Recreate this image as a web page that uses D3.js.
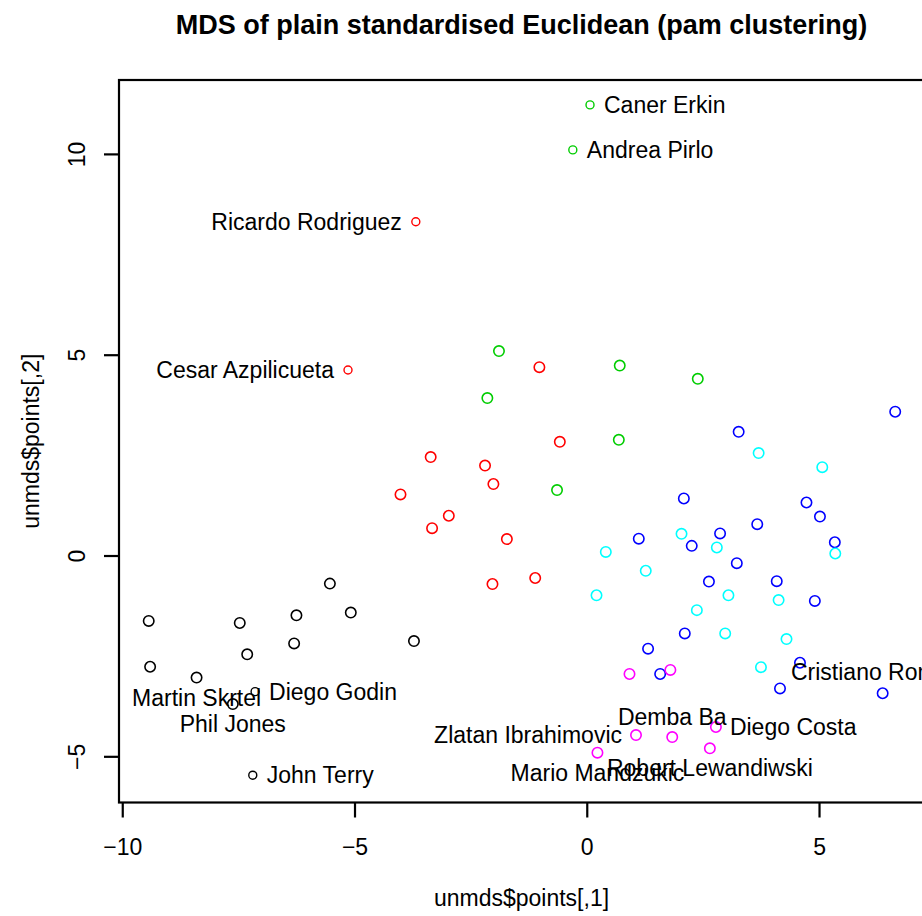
<!DOCTYPE html>
<html>
<head>
<meta charset="utf-8">
<script src="https://cdn.jsdelivr.net/npm/d3@7"></script>
<style>
  html, body { margin: 0; padding: 0; background: #fff; }
  svg { display: block; }
  text { font-family: "Liberation Sans", Arial, Helvetica, sans-serif; fill: #000; }
</style>
</head>
<body>
<svg id="chart" width="922" height="916"></svg>
<script>
// MDS coordinates (unmds$points[,1], unmds$points[,2]) grouped by pam cluster
const clusterColours = ["#000000", "#FF0000", "#00CD00", "#0000FF", "#00FFFF", "#FF00FF"];

const cluster1 = [
  [-9.43, -1.63], [-9.40, -2.77], [-7.47, -1.68], [-7.31, -2.46], [-6.25, -1.49],
  [-6.30, -2.19], [-5.53, -0.70], [-5.08, -1.42], [-3.72, -2.13]
];
const cluster2 = [
  [-1.02, 4.69], [-0.58, 2.83], [-3.36, 2.45], [-2.19, 2.24], [-2.01, 1.78],
  [-4.01, 1.52], [-2.97, 0.99], [-3.33, 0.68], [-1.72, 0.41], [-2.03, -0.71],
  [-1.11, -0.56]
];
const cluster3 = [
  [-1.89, 5.09], [-2.14, 3.92], [0.71, 4.73], [2.39, 4.40], [0.69, 2.88], [-0.64, 1.63]
];
const cluster4 = [
  [6.64, 3.58], [3.27, 3.08], [2.09, 1.42], [4.73, 1.32], [5.02, 0.97], [3.67, 0.78],
  [1.12, 0.42], [2.87, 0.55], [2.26, 0.24], [5.34, 0.33], [3.23, -0.19], [2.63, -0.65],
  [4.09, -0.64], [4.91, -1.13], [2.11, -1.94], [1.32, -2.32], [1.58, -2.95],
  [4.16, -3.31], [6.37, -3.43]
];
const cluster5 = [
  [3.70, 2.55], [5.07, 2.20], [2.04, 0.54], [2.80, 0.20], [5.35, 0.05], [0.41, 0.09],
  [1.27, -0.38], [3.05, -0.99], [4.13, -1.11], [0.21, -0.99], [2.37, -1.36],
  [2.98, -1.94], [4.30, -2.08], [3.75, -2.78]
];
const cluster6 = [
  [0.92, -2.95], [1.80, -2.85]
];

// Named players: [name, cluster, dim1, dim2]
const namedPlayers = [
  ["Caner Erkin", 3, 0.07, 11.22],
  ["Andrea Pirlo", 3, -0.30, 10.10],
  ["Ricardo Rodriguez", 2, -3.68, 8.31],
  ["Cesar Azpilicueta", 2, -5.14, 4.62],
  ["Martin Skrtel", 1, -8.40, -3.04],
  ["Diego Godin", 1, -7.14, -3.39],
  ["Phil Jones", 1, -7.62, -3.70],
  ["John Terry", 1, -7.19, -5.47],
  ["Zlatan Ibrahimovic", 6, 1.06, -4.47],
  ["Demba Ba", 6, 1.84, -4.52],
  ["Diego Costa", 6, 2.78, -4.27],
  ["Mario Mandzukic", 6, 0.23, -4.91],
  ["Robert Lewandiwski", 6, 2.65, -4.80],
  ["Cristiano Ronaldo", 4, 4.59, -2.67]
];

const xTicks = [-10, -5, 0, 5];
const yTicks = [-5, 0, 5, 10];

const titleText = "MDS of plain standardised Euclidean (pam clustering)";
const xTitle = "unmds$points[,1]";
const yTitle = "unmds$points[,2]";

// ---- label placement (R-style pos: 1 below, 2 left, 3 above, 4 right) ----
const labelPos = {
  "Caner Erkin": 4, "Andrea Pirlo": 4, "Ricardo Rodriguez": 2, "Cesar Azpilicueta": 2,
  "Martin Skrtel": 1, "Diego Godin": 4, "Phil Jones": 1, "John Terry": 4,
  "Zlatan Ibrahimovic": 2, "Demba Ba": 3, "Diego Costa": 4, "Mario Mandzukic": 1,
  "Robert Lewandiwski": 1, "Cristiano Ronaldo": "nudge"
};
const smallMarker = new Set(["Caner Erkin", "Andrea Pirlo", "Ricardo Rodriguez",
  "Cesar Azpilicueta", "Diego Godin", "John Terry"]);

// ---- layout ----
const box = { left: 119, top: 80, right: 924, bottom: 802.5 };
const fontSize = 23;

const svg = d3.select("#chart");

const x = d3.scaleLinear().domain([-10.07, 7.26]).range([box.left, box.right]);
const y = d3.scaleLinear().domain([-6.15, 11.84]).range([box.bottom, box.top]);

// title
svg.append("text")
  .attr("x", (box.left + box.right) / 2)
  .attr("y", 34)
  .attr("text-anchor", "middle")
  .style("font-size", "27px")
  .style("font-weight", "bold")
  .text(titleText);

// axes
const xAxis = svg.append("g")
  .attr("transform", `translate(0,${box.bottom})`)
  .call(d3.axisBottom(x).tickValues(xTicks).tickSize(15).tickPadding(21));
xAxis.select(".domain").remove();
xAxis.selectAll("line").attr("stroke", "#000").attr("stroke-width", 2.2);
xAxis.selectAll("text")
  .style("font-size", fontSize + "px")
  .style("font-family", "'Liberation Sans', Arial, sans-serif")
  .attr("fill", "#000");

const yAxis = svg.append("g")
  .attr("transform", `translate(${box.left},0)`)
  .call(d3.axisLeft(y).tickValues(yTicks).tickSize(15));
yAxis.select(".domain").remove();
yAxis.selectAll("line").attr("stroke", "#000").attr("stroke-width", 2.2);
yAxis.selectAll("text")
  .attr("x", null).attr("dy", null)
  .attr("transform", "translate(-34,0) rotate(-90)")
  .attr("text-anchor", "middle")
  .style("font-size", fontSize + "px")
  .style("font-family", "'Liberation Sans', Arial, sans-serif")
  .attr("fill", "#000");

// plot frame
svg.append("rect")
  .attr("x", box.left).attr("y", box.top)
  .attr("width", box.right - box.left).attr("height", box.bottom - box.top)
  .attr("fill", "none").attr("stroke", "#000").attr("stroke-width", 2.2);

// axis titles
svg.append("text")
  .attr("x", (box.left + box.right) / 2)
  .attr("y", 906)
  .attr("text-anchor", "middle")
  .style("font-size", fontSize + "px")
  .text(xTitle);

svg.append("text")
  .attr("transform", `translate(39,${(box.top + box.bottom) / 2}) rotate(-90)`)
  .attr("text-anchor", "middle")
  .style("font-size", fontSize + "px")
  .text(yTitle);

// points
const clusters = [cluster1, cluster2, cluster3, cluster4, cluster5, cluster6];
const plain = clusters.flatMap((pts, i) => pts.map(p => ({ c: i + 1, x: p[0], y: p[1] })));
const named = namedPlayers.map(d => ({ name: d[0], c: d[1], x: d[2], y: d[3] }));

const marks = svg.append("g");
marks.selectAll("circle.pt")
  .data(plain.concat(named))
  .join("circle")
  .attr("class", "pt")
  .attr("cx", d => x(d.x))
  .attr("cy", d => y(d.y))
  .attr("r", d => (d.name && smallMarker.has(d.name)) ? 4 : 5.2)
  .attr("fill", "none")
  .attr("stroke", d => clusterColours[d.c - 1])
  .attr("stroke-width", d => (d.name && smallMarker.has(d.name)) ? 1.4 : 1.6);

// labels
const gap = 14, vgap = 20;
const labels = svg.append("g").style("font-size", fontSize + "px");
named.forEach(d => {
  const px = x(d.x), py = y(d.y);
  const pos = labelPos[d.name];
  const t = labels.append("text").text(d.name).attr("dy", "0.35em");
  if (pos === 4) t.attr("x", px + gap).attr("y", py).attr("text-anchor", "start");
  else if (pos === 2) t.attr("x", px - gap).attr("y", py).attr("text-anchor", "end");
  else if (pos === 1) t.attr("x", px).attr("y", py + vgap).attr("text-anchor", "middle");
  else if (pos === 3) t.attr("x", px).attr("y", py - vgap).attr("text-anchor", "middle");
  else t.attr("x", px - 9).attr("y", py + 9.5).attr("text-anchor", "start");
});
</script>
</body>
</html>
